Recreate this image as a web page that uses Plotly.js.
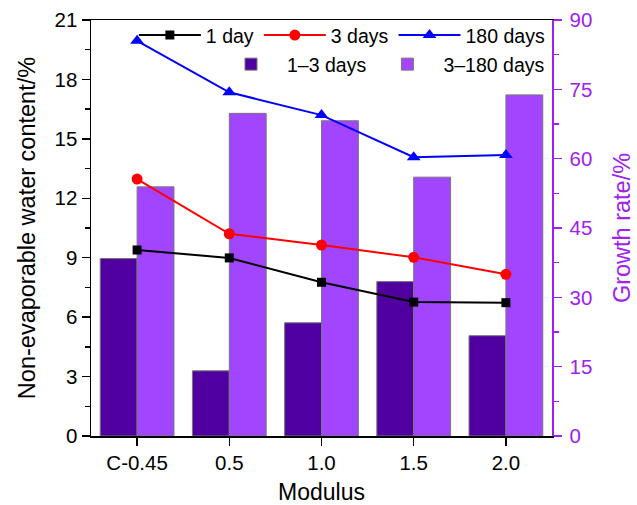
<!DOCTYPE html>
<html><head><meta charset="utf-8">
<script src="https://cdn.plot.ly/plotly-3.0.1.min.js"></script>
<style>html,body{margin:0;padding:0;background:#fff}#chart{width:637px;height:505px}</style>
</head><body><div id="chart"></div>
<script>
const categories = ["C-0.45", "0.5", "1.0", "1.5", "2.0"];
const day1 = [9.39, 8.99, 7.76, 6.76, 6.73];
const day3 = [12.97, 10.21, 9.64, 9.02, 8.16];
const day180 = [19.95, 17.35, 16.2, 14.07, 14.18];
const growth1to3 = [38.4, 14.1, 24.5, 33.4, 21.7];
const growth3to180 = [53.9, 69.8, 68.2, 56.0, 73.8];

const FONT = "Liberation Sans, Arial, sans-serif";
const PURPLE = "#A020F0";

const traces = [
  {type:"bar", name:"1–3 days", x:categories, y:growth1to3, yaxis:"y", legend:"legend2",
   marker:{color:"#5000A0", line:{color:"#777", width:1}}},
  {type:"bar", name:"3–180 days", x:categories, y:growth3to180, yaxis:"y", legend:"legend2",
   marker:{color:"#A245FF", line:{color:"#777", width:1}}},
  {type:"scatter", mode:"lines+markers", name:"1 day", x:categories, y:day1, yaxis:"y2", legend:"legend",
   line:{color:"#000", width:2}, marker:{symbol:"square", size:9, color:"#000"}},
  {type:"scatter", mode:"lines+markers", name:"3 days", x:categories, y:day3, yaxis:"y2", legend:"legend",
   line:{color:"#FF0000", width:2}, marker:{symbol:"circle", size:11, color:"#FF0000"}},
  {type:"scatter", mode:"lines+markers", name:"180 days", x:categories, y:day180, yaxis:"y2", legend:"legend",
   line:{color:"#0000FF", width:2}, marker:{symbol:"triangle-up", size:12, color:"#0000FF"}}
];

const layout = {
  width:637, height:505,
  margin:{l:91, r:85, t:20, b:69},
  paper_bgcolor:"#fff", plot_bgcolor:"#fff",
  font:{family:FONT, size:20, color:"#000"},
  barmode:"group", bargap:0.2, bargroupgap:0,
  xaxis:{type:"category", range:[-0.5, 4.5], showline:true, linecolor:"#000", linewidth:1.5, mirror:true,
         ticks:"outside", ticklen:8, tickwidth:1.5, tickcolor:"#000", showgrid:false, zeroline:false,
         tickfont:{size:20.5}, title:{text:"Modulus", font:{size:23}, standoff:14}},
  yaxis:{side:"right", range:[0,90], tickvals:[0,15,30,45,60,75,90], showline:true, linecolor:PURPLE, linewidth:1.5,
         ticks:"outside", ticklen:8, tickwidth:1.5, tickcolor:PURPLE, showgrid:false, zeroline:false,
         tickfont:{size:20.5, color:PURPLE}, ticklabelstandoff:4,
         minor:{dtick:7.5, ticks:"outside", ticklen:5, tickwidth:1.5, tickcolor:PURPLE, showgrid:false},
         title:{text:"Growth rate/%", font:{size:23.5, color:PURPLE}, standoff:22}},
  yaxis2:{overlaying:"y", side:"left", range:[0,21], tickvals:[0,3,6,9,12,15,18,21], showline:true, linecolor:"#000", linewidth:1.5,
         ticks:"outside", ticklen:8, tickwidth:1.5, tickcolor:"#000", showgrid:false, zeroline:false,
         tickfont:{size:20.5},
         minor:{dtick:1.5, ticks:"outside", ticklen:5, tickwidth:1.5, tickcolor:"#000", showgrid:false},
         title:{text:"Non-evaporable water content/%", font:{size:23.5}, standoff:12}},
  legend:{orientation:"h", x:0.093, y:1.01, xanchor:"left", yanchor:"top", bgcolor:"rgba(0,0,0,0)",
          font:{size:19.5}, itemwidth:62, traceorder:"normal"},
  legend2:{orientation:"h", x:0.269, y:0.94, xanchor:"left", yanchor:"top", bgcolor:"rgba(0,0,0,0)",
          font:{size:19.5}, itemwidth:62, traceorder:"normal"},
  showlegend:true
};

Plotly.newPlot("chart", traces, layout, {displayModeBar:false, staticPlot:true});
</script></body></html>
